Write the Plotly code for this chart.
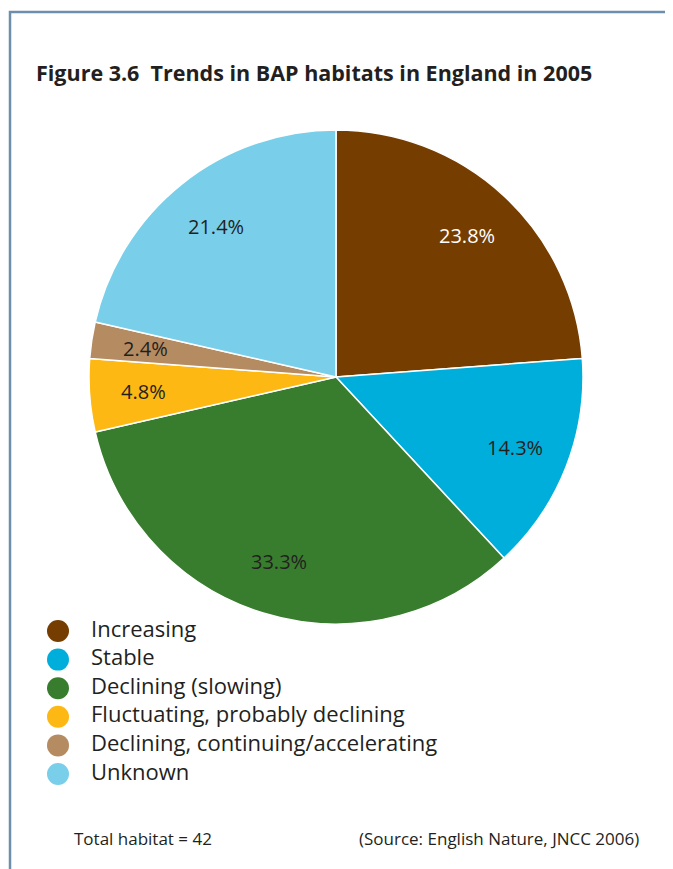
import math
import plotly.graph_objects as go

# Data
categories = ["Increasing", "Stable", "Declining (slowing)",
              "Fluctuating, probably declining",
              "Declining, continuing/accelerating", "Unknown"]
habitats = [10, 6, 14, 2, 1, 9]
colors = ["#763D00", "#00AEDB", "#387D2D", "#FDB813", "#B58B62", "#79CFEA"]
label_colors = ["white", "#231F20", "#231F20", "#231F20", "#231F20", "#231F20"]

# page has an 8px body margin, so the figure is a bit smaller and shifted
OFF = 8
W, H = 673 - OFF, 869 - OFF
FONT = "Open Sans"
TXT = "#231F20"


def fx(px):
    return (px - OFF) / W


def fy(py):
    return 1 - (py - OFF) / H


# pie placement (screen pixels)
cx, cy, R = 336, 377, 247

fig = go.Figure()

fig.add_trace(go.Pie(
    labels=categories, values=habitats, sort=False, direction="clockwise",
    rotation=0, marker=dict(colors=colors, line=dict(color="white", width=1.5)),
    textinfo="none", hoverinfo="label+percent", showlegend=False,
    domain=dict(x=[fx(cx - R), fx(cx + R)], y=[fy(cy + R), fy(cy - R)]),
))

# percentage labels at the middle of each slice
total = sum(habitats)
start = 0
for v, col in zip(habitats, label_colors):
    mid = (start + v / 2) / total * 2 * math.pi
    start += v
    r = 0.78 * R
    fig.add_annotation(x=fx(cx + r * math.sin(mid)), y=fy(cy - r * math.cos(mid)),
                       xref="paper", yref="paper", xanchor="center", yanchor="middle",
                       text=f"{v / total * 100:.1f}%", showarrow=False,
                       font=dict(family=FONT, size=20, color=col))

# legend drawn as a scatter of circles
idx = list(range(len(categories)))
fig.add_trace(go.Scatter(x=[0] * len(idx), y=idx, mode="markers",
                         marker=dict(size=22, color=colors), cliponaxis=False,
                         showlegend=False, hoverinfo="skip"))
fig.add_trace(go.Scatter(x=[1] * len(idx), y=idx, mode="text", text=categories,
                         textposition="middle right", cliponaxis=False,
                         textfont=dict(family=FONT, size=22, color=TXT),
                         showlegend=False, hoverinfo="skip"))

fig.update_xaxes(domain=[fx(58), fx(91)], range=[0, 1], visible=False, fixedrange=True)
fig.update_yaxes(domain=[fy(774), fy(631)], range=[5, 0], visible=False, fixedrange=True)

fig.add_annotation(x=fx(34), y=fy(72), xref="paper", yref="paper",
                   xanchor="left", yanchor="middle", showarrow=False,
                   text="<b>Figure 3.6\u00a0 Trends in BAP habitats in England in 2005</b>",
                   font=dict(family=FONT, size=21.5, color=TXT))
fig.add_annotation(x=fx(72), y=fy(838), xref="paper", yref="paper",
                   xanchor="left", yanchor="middle", showarrow=False,
                   text="Total habitat = 42", font=dict(family=FONT, size=17, color=TXT))
fig.add_annotation(x=fx(641), y=fy(838), xref="paper", yref="paper",
                   xanchor="right", yanchor="middle", showarrow=False,
                   text="(Source: English Nature, JNCC 2006)",
                   font=dict(family=FONT, size=17, color=TXT))

# frame around the figure
fig.add_shape(type="rect", xref="paper", yref="paper",
              x0=fx(10), x1=fx(667), y0=-0.05, y1=fy(12),
              line=dict(color="#6E8FAB", width=2.5), layer="below")

fig.update_layout(width=W, height=H, margin=dict(l=0, r=0, t=0, b=0),
                  paper_bgcolor="white", plot_bgcolor="white")

fig.write_html("out.html")
